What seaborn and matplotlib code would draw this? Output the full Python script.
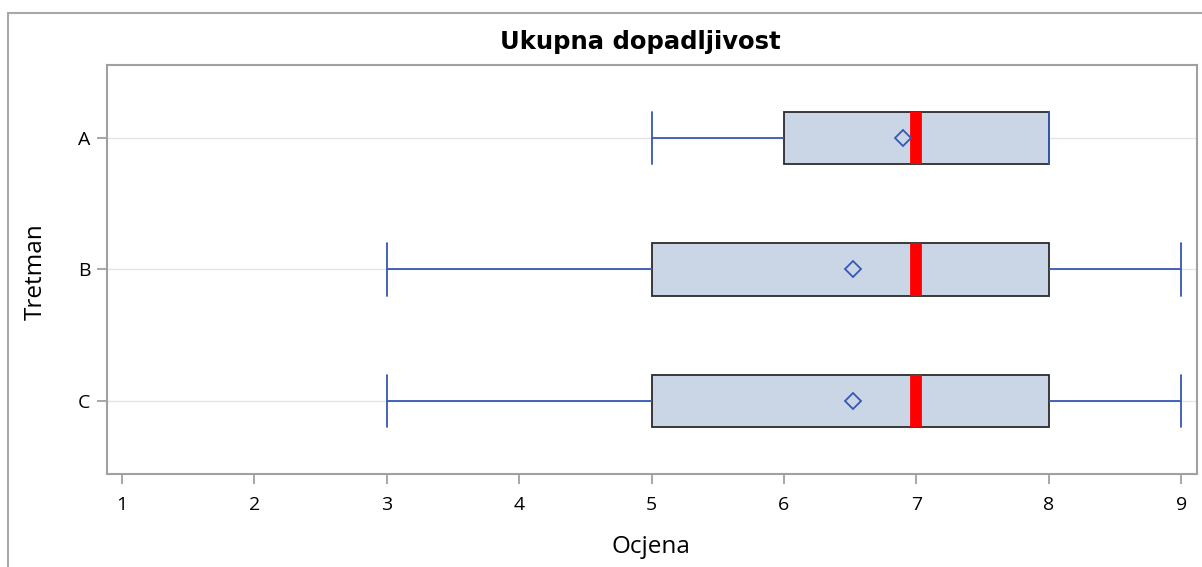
import pandas as pd
import seaborn as sns
import matplotlib
matplotlib.use("Agg")
import matplotlib.pyplot as plt
from matplotlib.patches import Rectangle

# raw scores per treatment (chosen so quartiles / mean match the chart)
groups = ["A", "B", "C"]
scores_a = [5, 5, 6, 6, 6, 6, 7, 7, 7, 7, 7, 7, 7, 7, 8, 8, 8, 8, 8, 8]
scores_b = [3, 3, 3, 5, 5, 5, 5, 5, 6, 6, 7, 7, 7, 7, 7,
            8, 8, 8, 8, 8, 8, 8, 8, 9, 9]
scores_c = [3, 3, 3, 5, 5, 5, 5, 5, 6, 6, 7, 7, 7, 7, 7,
            8, 8, 8, 8, 8, 8, 8, 8, 9, 9]
x_ticks = [1, 2, 3, 4, 5, 6, 7, 8, 9]

df = pd.DataFrame({
    "Tretman": ["A"] * len(scores_a) + ["B"] * len(scores_b) + ["C"] * len(scores_c),
    "Ocjena": scores_a + scores_b + scores_c,
})

sns.set_style("white")
plt.rcParams["font.family"] = ["Open Sans", "DejaVu Sans"]
plt.rcParams["text.color"] = "black"

blue = "#3558B5"
fig = plt.figure(figsize=(12.02, 5.67), dpi=100)
ax = fig.add_axes([0.089, 0.164, 0.9068, 0.7214])

sns.boxplot(data=df, x="Ocjena", y="Tretman", order=groups, orient="h",
            width=0.4, color="#CAD5E5", showmeans=True, showfliers=False,
            capwidths=0.4,
            boxprops=dict(facecolor="#CAD5E5", edgecolor="#2B2B2B", linewidth=1.3),
            whiskerprops=dict(color=blue, linewidth=1.3),
            capprops=dict(color=blue, linewidth=1.3),
            medianprops=dict(color="red", linewidth=8.5, solid_capstyle="butt"),
            meanprops=dict(marker="D", markerfacecolor="none",
                           markeredgecolor=blue, markersize=8.5, markeredgewidth=1.3),
            ax=ax)

for i in range(len(groups)):
    ax.axhline(i, color="#E4E4E4", linewidth=1, zorder=0)

ax.set_xlim(0.887, 9.12)
ax.set_ylim(2.555, -0.555)
ax.set_xticks(x_ticks)
ax.set_xticklabels([str(t) for t in x_ticks])
ax.tick_params(axis="both", which="both", length=7, width=1.3, color="#A0A0A0",
               labelsize=14, labelcolor="black", direction="out",
               left=True, bottom=True)
ax.tick_params(axis="x", pad=9)
ax.tick_params(axis="y", pad=5)
for s in ax.spines.values():
    s.set_color("#A0A0A0")
    s.set_linewidth(1.5)
    s.set_visible(True)

ax.set_xlabel("")
ax.set_ylabel("")
fig.text(651 / 1202, 1 - 553 / 567, "Ocjena", ha="center", va="baseline",
         fontsize=17.5)
fig.text(36 / 1202, 1 - 272 / 567, "Tretman", ha="center", va="center",
         rotation=90, fontsize=17.5)
fig.text(640 / 1202, 1 - 49 / 567, "Ukupna dopadljivost", ha="center",
         va="baseline", fontsize=17.5, fontweight="bold", family="DejaVu Sans")

# outer frame
fig.patches.append(Rectangle((8 / 1202, -0.1), 1.2, 0.1 + 1 - 13 / 567,
                             transform=fig.transFigure, fill=False,
                             edgecolor="#A8A8A8", linewidth=1.5))

fig.savefig("out.png", dpi=100)
